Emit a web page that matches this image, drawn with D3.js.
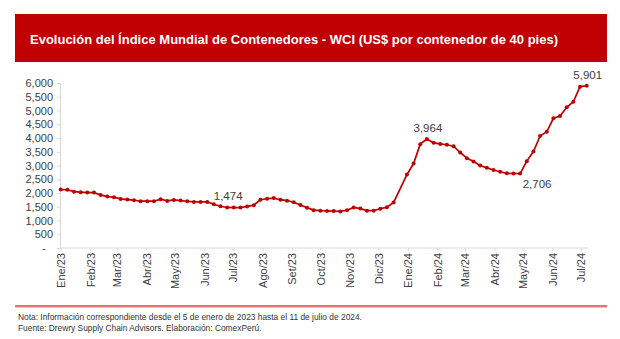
<!DOCTYPE html>
<html><head><meta charset="utf-8">
<script src="https://cdn.jsdelivr.net/npm/d3@7"></script>
<style>
html,body{margin:0;padding:0;background:#fff;}
svg{display:block;font-family:"Liberation Sans",Arial,sans-serif;}
</style></head>
<body>
<svg id="c" width="620" height="339"></svg>
<script>
const title = "Evolución del Índice Mundial de Contenedores - WCI (US$ por contenedor de 40 pies)";
const noteLines = [
  "Nota: Información correspondiente desde el 5 de enero de 2023 hasta el 11 de julio de 2024.",
  "Fuente: Drewry Supply Chain Advisors. Elaboración: ComexPerú."
];
// weekly dates (no publication on 2023-12-28)
const weeks = [
  "2023-01-05","2023-01-12","2023-01-19","2023-01-26","2023-02-02","2023-02-09","2023-02-16","2023-02-23",
  "2023-03-02","2023-03-09","2023-03-16","2023-03-23","2023-03-30","2023-04-06","2023-04-13","2023-04-20",
  "2023-04-27","2023-05-04","2023-05-11","2023-05-18","2023-05-25","2023-06-01","2023-06-08","2023-06-15",
  "2023-06-22","2023-06-29","2023-07-06","2023-07-13","2023-07-20","2023-07-27","2023-08-03","2023-08-10",
  "2023-08-17","2023-08-24","2023-08-31","2023-09-07","2023-09-14","2023-09-21","2023-09-28","2023-10-05",
  "2023-10-12","2023-10-19","2023-10-26","2023-11-02","2023-11-09","2023-11-16","2023-11-23","2023-11-30",
  "2023-12-07","2023-12-14","2023-12-21",
  "2024-01-04","2024-01-11","2024-01-18","2024-01-25","2024-02-01","2024-02-08","2024-02-15","2024-02-22",
  "2024-02-29","2024-03-07","2024-03-14","2024-03-21","2024-03-28","2024-04-04","2024-04-11","2024-04-18",
  "2024-04-25","2024-05-02","2024-05-09","2024-05-16","2024-05-23","2024-05-30","2024-06-06","2024-06-13",
  "2024-06-20","2024-06-27","2024-07-04","2024-07-11"
];
const wci = [
  2124,2118,2050,2030,2015,2015,1931,1869,
  1847,1785,1760,1738,1701,1701,1701,1774,
  1712,1749,1723,1701,1676,1676,1676,1592,
  1519,1474,1470,1470,1512,1559,1756,1792,
  1814,1756,1720,1665,1566,1468,1377,1359,
  1348,1341,1330,1373,1475,1432,1359,1359,
  1428,1486,1656,
  2670,3072,3777,3964,3824,3786,3754,3701,
  3472,3268,3144,2998,2914,2837,2773,2717,
  2710,2706,3159,3510,4072,4226,4716,4801,
  5117,5319,5868,5901
];
const monthLabels = ["Ene/23","Feb/23","Mar/23","Abr/23","May/23","Jun/23","Jul/23","Ago/23","Set/23","Oct/23",
  "Nov/23","Dic/23","Ene/24","Feb/24","Mar/24","Abr/24","May/24","Jun/24","Jul/24"];
const yTicks = [0,500,1000,1500,2000,2500,3000,3500,4000,4500,5000,5500,6000];
// labelled points: date, value, placement
const callouts = [
  {date:"2023-06-29", value:1474, pos:"above"},
  {date:"2024-01-25", value:3964, pos:"above"},
  {date:"2024-05-02", value:2706, pos:"belowRight"},
  {date:"2024-07-11", value:5901, pos:"above"}
];

const parse = d3.timeParse("%Y-%m-%d");
const data = weeks.map((w,i)=>({date:parse(w), value:wci[i]}));
const svg = d3.select("#c");
const red = "#C00000";
const textCol = "#404040";

// title bar
svg.append("rect").attr("x",15).attr("y",14).attr("width",592).attr("height",48).attr("fill",red);
svg.append("text").attr("x",30).attr("y",44).attr("fill","#fff").attr("font-weight","bold")
  .attr("font-size",13).text(title);

const x = d3.scaleTime().domain([parse("2023-01-05"), parse("2024-07-11")]).range([60.7, 586.7]);
const y = d3.scaleLinear().domain([0,6000]).range([248, 83]);

// y axis
const yAxis = d3.axisLeft(y).tickValues(yTicks).tickSize(3).tickPadding(4)
  .tickFormat(d=> d===0 ? "-" : d3.format(",")(d));
const gy = svg.append("g").attr("transform","translate(60,0)").call(yAxis);
gy.select(".domain").attr("stroke","#d9d9d9");
gy.selectAll(".tick line").attr("stroke","#d9d9d9");
gy.selectAll(".tick text").attr("fill",textCol).attr("font-size",11).attr("font-family","Liberation Sans, Arial, sans-serif");
gy.selectAll(".tick text").filter(d=>d===0).attr("x",-14);

// x axis
const tickDates = monthLabels.map((m,i)=> new Date(2023, i, 5));
const xAxis = d3.axisBottom(x).tickValues(tickDates).tickSize(3).tickSizeOuter(0)
  .tickFormat((d,i)=>monthLabels[i]);
const gx = svg.append("g").attr("transform","translate(0,248)").call(xAxis);
gx.select(".domain").attr("stroke","#d9d9d9").attr("d","M60,0H588");
gx.selectAll(".tick line").attr("stroke","#d9d9d9");
gx.selectAll(".tick text").attr("fill",textCol).attr("font-size",11)
  .attr("font-family","Liberation Sans, Arial, sans-serif")
  .attr("text-anchor","end").attr("transform","rotate(-90)")
  .attr("x",-5).attr("y",0).attr("dy","0.35em");

// line
const line = d3.line().x(d=>x(d.date)).y(d=>y(d.value));
svg.append("path").datum(data).attr("d",line).attr("fill","none").attr("stroke",red).attr("stroke-width",1.7);
svg.append("g").selectAll("circle").data(data).join("circle")
  .attr("cx",d=>x(d.date)).attr("cy",d=>y(d.value)).attr("r",2).attr("fill",red);

// callouts
svg.append("g").selectAll("text").data(callouts).join("text")
  .attr("x",d=> x(parse(d.date)) + (d.pos==="belowRight" ? 17 : 1))
  .attr("y",d=> y(d.value) + (d.pos==="belowRight" ? 14 : -7))
  .attr("text-anchor","middle").attr("font-size",11.5).attr("fill",textCol)
  .text(d=>d3.format(",")(d.value));

// footer
svg.append("line").attr("x1",15).attr("x2",607).attr("y1",306).attr("y2",306).attr("stroke","#d84848").attr("stroke-width",1.3);
svg.append("line").attr("x1",15).attr("x2",607).attr("y1",307.5).attr("y2",307.5).attr("stroke","#f2c4c4").attr("stroke-width",1);
svg.append("g").selectAll("text").data(noteLines).join("text")
  .attr("x",18).attr("y",(d,i)=>320 + i*11).attr("font-size",8.4).attr("fill","#333")
  .text(d=>d);
</script>
</body></html>
